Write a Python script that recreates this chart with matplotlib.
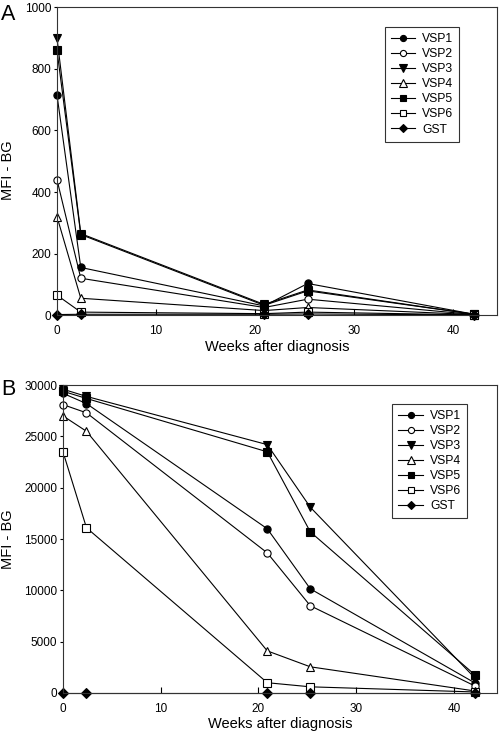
import numpy as np
import matplotlib
matplotlib.use('Agg')
import matplotlib.pyplot as plt

plt.rcParams['font.family'] = ['Liberation Sans', 'DejaVu Sans']

# Weeks after diagnosis
weeks = [0, 2.4, 20.9, 25.3, 42.1]

labels = ['VSP1', 'VSP2', 'VSP3', 'VSP4', 'VSP5', 'VSP6', 'GST']
markers = ['o', 'o', 'v', '^', 's', 's', 'D']
filled = [True, False, True, False, True, False, True]

# Panel A: MFI - BG
a_vsp1 = [715, 155, 30, 103, 3]
a_vsp2 = [440, 120, 25, 52, 2]
a_vsp3 = [900, 265, 35, 82, 3]
a_vsp4 = [320, 55, 15, 25, 2]
a_vsp5 = [860, 262, 32, 79, 3]
a_vsp6 = [65, 10, 5, 10, 1]
a_gst = [2, 3, 3, 4, 1]

# Panel B: MFI - BG
b_vsp1 = [29200, 28200, 16000, 10150, 1000]
b_vsp2 = [28100, 27300, 13650, 8500, 700]
b_vsp3 = [29600, 28900, 24200, 18100, 1500]
b_vsp4 = [27000, 25500, 4100, 2550, 200]
b_vsp5 = [29400, 28700, 23500, 15700, 1800]
b_vsp6 = [23500, 16100, 1000, 600, 100]
b_gst = [0, 0, 0, 0, 0]

data_a = [a_vsp1, a_vsp2, a_vsp3, a_vsp4, a_vsp5, a_vsp6, a_gst]
data_b = [b_vsp1, b_vsp2, b_vsp3, b_vsp4, b_vsp5, b_vsp6, b_gst]

fig = plt.figure(figsize=(5.0, 7.33), dpi=100)
ax_a = fig.add_axes([0.114, 0.570, 0.880, 0.420])
ax_b = fig.add_axes([0.126, 0.0546, 0.868, 0.420])

sizes = {'o': 5.2, 'v': 6.0, '^': 6.0, 's': 5.2, 'D': 5.2}


def draw(ax, data, ymax, yticks, ylab_x, ylab_y, leg_anchor):
    for vals, lab, m, f in zip(data, labels, markers, filled):
        ax.plot(weeks, vals, color='black', lw=0.8, marker=m,
                markersize=sizes[m],
                markerfacecolor='black' if f else 'white',
                markeredgecolor='black', markeredgewidth=0.8, label=lab,
                clip_on=False)
    ax.set_xlim(0, 44.4)
    ax.set_ylim(0, ymax)
    ax.set_xticks([0, 10, 20, 30, 40])
    ax.set_yticks(yticks)
    ax.tick_params(axis='x', direction='in', length=4, labelsize=8.5, pad=7)
    ax.tick_params(axis='y', direction='out', length=2, labelsize=8.5, pad=2)
    for s in ax.spines.values():
        s.set_linewidth(0.8)
        s.set_color('#333333')
    ax.set_xlabel('Weeks after diagnosis', fontsize=10.5, labelpad=2)
    ax.set_ylabel('MFI - BG', fontsize=10.5)
    ax.yaxis.set_label_coords(ylab_x, ylab_y)
    leg = ax.legend(loc='upper right', bbox_to_anchor=leg_anchor,
                    frameon=True, fancybox=False, fontsize=8.7,
                    markerscale=0.85, handlelength=2.0, handletextpad=0.6,
                    labelspacing=0.25, borderpad=0.5, borderaxespad=0)
    leg.get_frame().set_edgecolor('black')
    leg.get_frame().set_linewidth(0.8)


draw(ax_a, data_a, 1000, [0, 200, 400, 600, 800, 1000],
     -0.095, 0.47, (0.914, 0.935))
draw(ax_b, data_b, 30000, [0, 5000, 10000, 15000, 20000, 25000, 30000],
     -0.11, 0.5, (0.931, 0.938))

fig.text(0.002, 0.995, 'A', fontsize=15.5, va='top', ha='left')
fig.text(0.002, 0.483, 'B', fontsize=15.5, va='top', ha='left')

fig.savefig('out.png', dpi=100)
